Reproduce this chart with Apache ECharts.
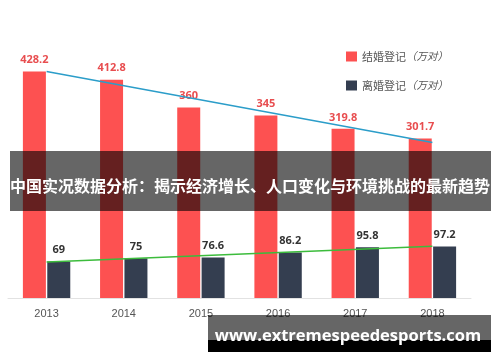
<!DOCTYPE html>
<html>
<head>
<meta charset="utf-8">
<script src="https://cdn.jsdelivr.net/npm/echarts@6/dist/echarts.min.js"></script>
<style>html,body{margin:0;padding:0;background:#fff;}#c{width:500px;height:362px;}</style>
</head>
<body>
<div id="c"></div>
<script>
var years = ['2013', '2014', '2015', '2016', '2017', '2018'];
var marriage = [428.2, 412.8, 360, 345, 319.8, 301.7];
var divorce = [69, 75, 76.6, 86.2, 95.8, 97.2];
var marriageTrend = [428.2, null, null, null, null, 294];
var divorceTrend = [68, null, null, null, null, 98];
var seriesNames = ['结婚登记', '离婚登记'];
var unitText = '（万对）';
var titleText = '中国实况数据分析：揭示经济增长、人口变化与环境挑战的最新趋势';
var watermark = 'www.extremespeedesports.com';

var chart = echarts.init(document.getElementById('c'));
var font = '"Noto Sans CJK SC", "Open Sans", sans-serif';
chart.setOption({
  animation: false,
  textStyle: { fontFamily: font },
  grid: { left: 8, right: 29, top: 60, bottom: 64 },
  legend: {
    orient: 'vertical',
    left: 341, top: 46,
    icon: 'rect',
    itemWidth: 11, itemHeight: 10, itemGap: 18,
    data: seriesNames,
    formatter: function (n) { return '{a|' + n + '}{b|' + unitText + '}'; },
    textStyle: {
      color: '#555', fontSize: 11,
      rich: { a: { fontSize: 11, color: '#555' }, b: { fontSize: 10.5, color: '#555', fontStyle: 'italic' } }
    }
  },
  xAxis: {
    type: 'category', data: years,
    axisLine: { lineStyle: { color: '#e2e2e2' } },
    axisTick: { show: false },
    axisLabel: { color: '#555', fontSize: 11, margin: 10, fontFamily: 'Liberation Sans, Arial, sans-serif' }
  },
  yAxis: { type: 'value', min: 0, max: 450, show: false, splitLine: { show: false } },
  series: [
    {
      name: seriesNames[0], type: 'bar', data: marriage, barWidth: 23, barGap: '6%',
      itemStyle: { color: '#fd5151' },
      label: { show: true, position: 'top', distance: 6, color: '#e84d4f', fontWeight: 'bold', fontSize: 11, fontFamily: '"Open Sans", sans-serif' }
    },
    {
      name: seriesNames[1], type: 'bar', data: divorce, barWidth: 23,
      itemStyle: { color: '#343e50' },
      label: { show: true, position: 'top', distance: 6, color: '#333', fontWeight: 'bold', fontSize: 11, fontFamily: '"Open Sans", sans-serif' }
    },
    {
      type: 'line', data: marriageTrend, connectNulls: true, symbol: 'none', z: 5,
      lineStyle: { color: '#2b9dc9', width: 1.5 }, silent: true
    },
    {
      type: 'line', data: divorceTrend, connectNulls: true, symbol: 'none', z: 5,
      lineStyle: { color: '#3cbc3c', width: 1.5 }, silent: true
    }
  ],
  graphic: [
    { type: 'rect', shape: { x: 10, y: 151, width: 481, height: 60 }, style: { fill: 'rgba(0,0,0,0.6)' }, z: 100 },
    { type: 'text', x: 250, y: 186, z: 101,
      style: { text: titleText, fill: '#fff', font: 'bold 16px "Noto Sans CJK SC", sans-serif', align: 'center', verticalAlign: 'middle' } },
    { type: 'rect', shape: { x: 208, y: 315, width: 283, height: 25 }, style: { fill: 'rgba(0,0,0,0.6)' }, z: 100 },
    { type: 'rect', shape: { x: 208, y: 340, width: 283, height: 12 }, style: { fill: '#000' }, z: 100 },
    { type: 'text', x: 348, y: 336, z: 101,
      style: { text: watermark, fill: '#fff', font: 'bold 16.5px "Open Sans", sans-serif', align: 'center', verticalAlign: 'middle' } }
  ]
});
</script>
</body>
</html>
